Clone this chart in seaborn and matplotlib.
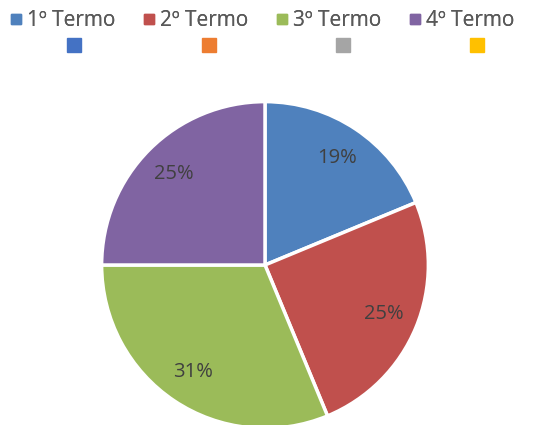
import matplotlib
matplotlib.use("Agg")
import matplotlib.pyplot as plt
from matplotlib.lines import Line2D
import seaborn as sns

# Share of each term (in sixteenths)
terms = ["1º Termo", "2º Termo", "3º Termo", "4º Termo"]
shares = [3, 4, 5, 4]
slice_colors = ["#4F81BD", "#C0504D", "#9BBB59", "#8064A2"]
# Unlabelled series shown in the second legend row
extra_colors = ["#4472C4", "#ED7D31", "#A5A5A5", "#FFC000"]

sns.set_theme(style="white")
plt.rcParams["font.family"] = ["Open Sans", "DejaVu Sans"]

fig = plt.figure(figsize=(5.33, 4.25), dpi=100)
ax = fig.add_axes([100 / 533, -5 / 425, 330 / 533, 330 / 425])

palette = sns.color_palette(slice_colors)
wedges, _, autotexts = ax.pie(
    shares,
    colors=palette,
    startangle=90,
    counterclock=False,
    autopct="%1.0f%%",
    pctdistance=0.79,
    wedgeprops=dict(edgecolor="white", linewidth=2.5),
    textprops=dict(color="#404040", fontsize=14.5),
)
ax.set_xlim(-1.01, 1.01)
ax.set_ylim(-1.01, 1.01)
ax.set_aspect("equal")

handles = [Line2D([], [], marker="s", linestyle="none", markersize=6.5,
                  markerfacecolor=c, markeredgecolor=c) for c in slice_colors]
leg1 = fig.legend(handles, terms, loc="upper left", bbox_to_anchor=(0.002, 0.995),
                  ncol=4, frameon=False, fontsize=15, labelcolor="#595959",
                  handlelength=0.6, handletextpad=0.25, columnspacing=1.3,
                  borderaxespad=0)
fig.add_artist(leg1)

extra_handles = [Line2D([], [], marker="s", linestyle="none", markersize=10,
                        markerfacecolor=c, markeredgecolor=c) for c in extra_colors]
fig.legend(extra_handles, [""] * 4, loc="upper left", bbox_to_anchor=(0.108, 0.93),
           ncol=4, frameon=False, fontsize=13.5, handlelength=1.0,
           handletextpad=0.0, columnspacing=6.15, borderaxespad=0)

fig.savefig("out.png", dpi=100)
